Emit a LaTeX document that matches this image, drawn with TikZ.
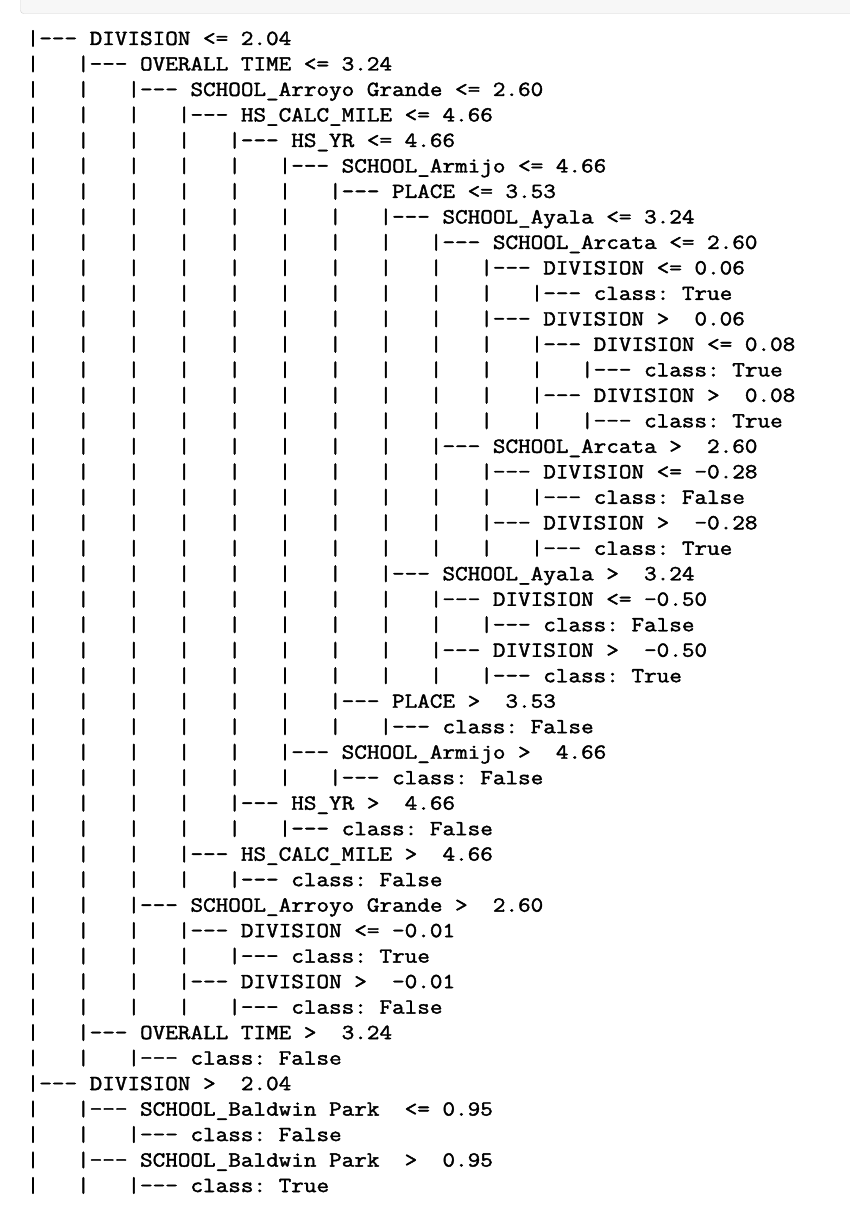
\documentclass[tikz,border=0pt]{standalone}
\usepackage{fontspec}
\setmonofont{Latin Modern Mono}[FakeBold=1.8, FakeStretch=1.138]
\definecolor{cellbg}{HTML}{F7F7F7}
\definecolor{cellrule}{HTML}{CFCFCF}
\newcommand{\branch}{|-{}-{}-\ }

\begin{document}
\begin{tikzpicture}[x=1pt, y=-1pt,
  txt/.style={font=\ttfamily\fontsize{21.5}{25}\selectfont\frenchspacing,
    anchor=base west, inner sep=0pt, outer sep=0pt}]
  \useasboundingbox (0,0) rectangle (850,1214);
  \clip (0,0) rectangle (850,1214);
  % ===== cell frame =====
  \draw[cellrule, fill=cellbg, rounded corners=3pt] (20.5,-10) rectangle (860,13.5);
  % ===== tree rows (depth/text) =====
  \foreach \d/\t [count=\i] in {
      0/DIVISION <= 2.04,
      1/OVERALL TIME <= 3.24,
      2/SCHOOL\_Arroyo Grande <= 2.60,
      3/HS\_CALC\_MILE <= 4.66,
      4/HS\_YR <= 4.66,
      5/SCHOOL\_Armijo <= 4.66,
      6/PLACE <= 3.53,
      7/SCHOOL\_Ayala <= 3.24,
      8/SCHOOL\_Arcata <= 2.60,
      9/DIVISION <= 0.06,
      10/class: True,
      9/DIVISION >\ \ 0.06,
      10/DIVISION <= 0.08,
      11/class: True,
      10/DIVISION >\ \ 0.08,
      11/class: True,
      8/SCHOOL\_Arcata >\ \ 2.60,
      9/DIVISION <= -0.28,
      10/class: False,
      9/DIVISION >\ \ -0.28,
      10/class: True,
      7/SCHOOL\_Ayala >\ \ 3.24,
      8/DIVISION <= -0.50,
      9/class: False,
      8/DIVISION >\ \ -0.50,
      9/class: True,
      6/PLACE >\ \ 3.53,
      7/class: False,
      5/SCHOOL\_Armijo >\ \ 4.66,
      6/class: False,
      4/HS\_YR >\ \ 4.66,
      5/class: False,
      3/HS\_CALC\_MILE >\ \ 4.66,
      4/class: False,
      2/SCHOOL\_Arroyo Grande >\ \ 2.60,
      3/DIVISION <= -0.01,
      4/class: True,
      3/DIVISION >\ \ -0.01,
      4/class: False,
      1/OVERALL TIME >\ \ 3.24,
      2/class: False,
      0/DIVISION >\ \ 2.04,
      1/SCHOOL\_Baldwin Park\ \ <= 0.95,
      2/class: False,
      1/SCHOOL\_Baldwin Park\ \ >\ \ 0.95,
      2/class: True}{
    \pgfmathsetmacro{\yb}{45+(\i-1)*25.49}
    \node[txt] (row\i) at ({26.7+50.4*\d},\yb) {\branch\t};
    \ifnum\d>0
      \foreach \k in {1,...,\d}{
        \node[txt] (bar\i-\k) at ({26.7+50.4*(\k-1)},\yb) {|};
      }
    \fi
  }
\end{tikzpicture}
\end{document}
